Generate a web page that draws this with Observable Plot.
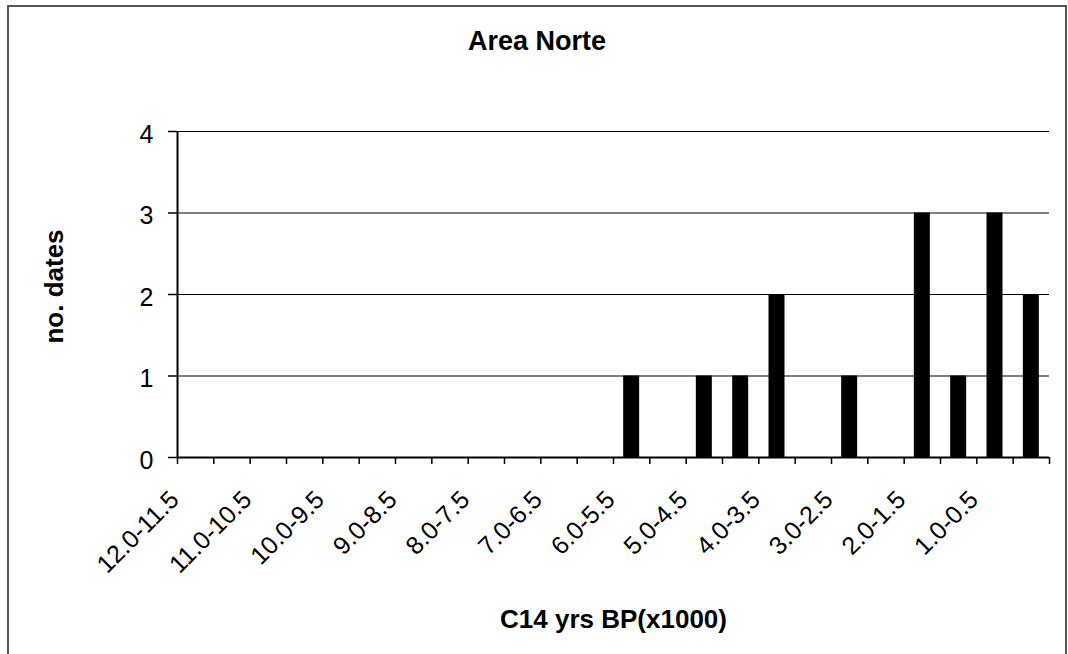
<!DOCTYPE html>
<html>
<head>
<meta charset="utf-8">
<script src="https://cdn.jsdelivr.net/npm/d3@7"></script>
<script src="https://cdn.jsdelivr.net/npm/@observablehq/plot@0.6"></script>
<style>
  body { margin: 0; background: #fff; }
  #wrap { position: relative; width: 1068px; height: 654px; background: #fff; overflow: hidden;
          font-family: "Liberation Sans", Arial, sans-serif; }
  #border { position: absolute; left: 7px; top: 5px; width: 1060px; height: 656px;
            border: 2px solid #555; box-sizing: border-box; pointer-events: none; }
  #title { position: absolute; top: 28px; left: 3px; width: 1068px; text-align: center;
           font-size: 27px; line-height: 27px; font-weight: bold; color: #000; }
  #chart { position: absolute; top: 90px; left: 0; }
</style>
</head>
<body>
<div id="wrap">
  <div id="title"></div>
  <div id="chart"></div>
  <div id="border"></div>
</div>
<script>
const categories = ["12.0-11.5","11.5-11.0","11.0-10.5","10.5-10.0","10.0-9.5","9.5-9.0",
  "9.0-8.5","8.5-8.0","8.0-7.5","7.5-7.0","7.0-6.5","6.5-6.0","6.0-5.5","5.5-5.0",
  "5.0-4.5","4.5-4.0","4.0-3.5","3.5-3.0","3.0-2.5","2.5-2.0","2.0-1.5","1.5-1.0",
  "1.0-0.5","0.5-0.0"];
const counts = [0,0,0,0,0,0,0,0,0,0,0,0,1,0,1,1,2,0,1,0,3,1,3,2];
const tickLabels = ["12.0-11.5","11.0-10.5","10.0-9.5","9.0-8.5","8.0-7.5","7.0-6.5",
  "6.0-5.5","5.0-4.5","4.0-3.5","3.0-2.5","2.0-1.5","1.0-0.5"];
const yTicks = [0,1,2,3,4];
const title = "Area Norte";
const xLabel = "C14 yrs BP(x1000)";
const yLabel = "no. dates";

document.getElementById("title").textContent = title;

const data = categories.map((c, i) => ({cat: c, n: counts[i]}));

const W = 1068, H = 564, mL = 177, mR = 19, mT = 41, mB = 197;
const step = (W - mL - mR) / categories.length;

const chart = Plot.plot({
  width: W, height: H,
  marginLeft: mL, marginRight: mR, marginTop: mT, marginBottom: mB,
  style: { fontFamily: '"Liberation Sans", Arial, sans-serif', fontSize: "25px", color: "#000", background: "#fff" },
  x: { domain: categories, paddingInner: 0.56, paddingOuter: 0.28, round: false, axis: null },
  y: { domain: [0, 4], axis: null },
  marks: [
    Plot.ruleY(yTicks.filter(d => d > 0), { stroke: "#000", strokeWidth: 1.2 }),
    Plot.barY(data.filter(d => d.n > 0), { x: "cat", y: "n", fill: "#000" }),
    Plot.ruleY([0], { stroke: "#000", strokeWidth: 2 }),
    Plot.ruleX([categories[0]], { dx: -step / 2, stroke: "#000", strokeWidth: 2 }),
    Plot.axisY({ ticks: yTicks, tickSize: 9, tickFormat: () => "",
                 stroke: "#000", strokeWidth: 1.5, label: null }),
    Plot.axisY({ ticks: yTicks, tickSize: 0, tickPadding: 24, tickFormat: d => String(d),
                 fontSize: 25, dy: 3, label: null }),
    Plot.axisX({ ticks: categories, tickSize: 7, tickFormat: () => "", dx: -step / 2,
                 stroke: "#000", strokeWidth: 1.5, label: null }),
    Plot.axisX({ ticks: [categories[categories.length - 1]], tickSize: 7, tickFormat: () => "",
                 dx: step / 2, stroke: "#000", strokeWidth: 1.5, label: null }),
    Plot.axisX({ ticks: tickLabels, tickSize: 0, tickRotate: -45, tickPadding: 10,
                 fontSize: 25, dx: -21, dy: 28, label: null }),
    Plot.text([xLabel], { frameAnchor: "bottom", dy: 170, fontSize: 26, fontWeight: "bold" }),
    Plot.text([yLabel], { frameAnchor: "left", textAnchor: "middle", rotate: -90, dx: -123, dy: -8,
                          fontSize: 26, fontWeight: "bold" })
  ]
});
document.getElementById("chart").appendChild(chart);
</script>
</body>
</html>
